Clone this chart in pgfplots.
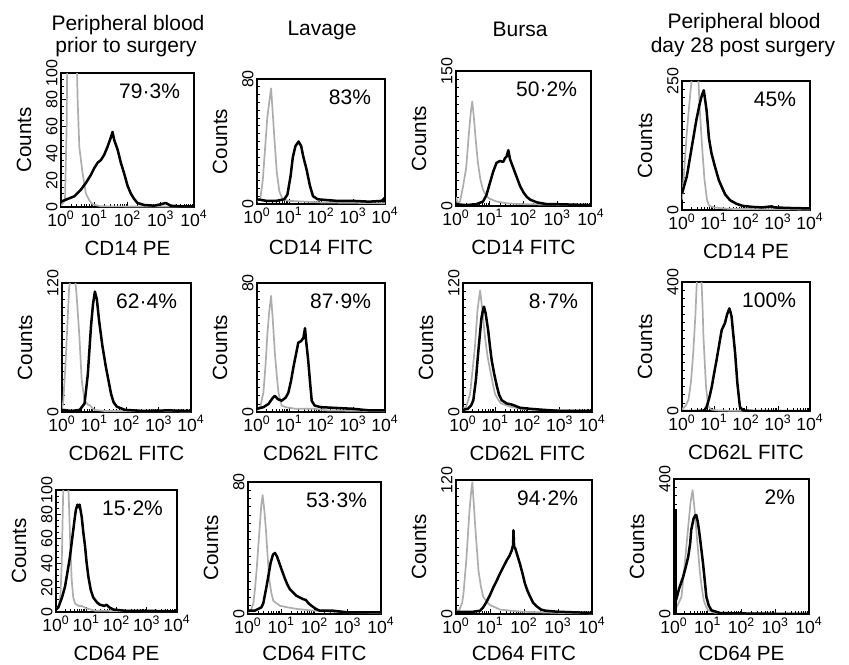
\documentclass[border=0pt]{standalone}
\usepackage{pgfplots}
\pgfplotsset{compat=1.18}
\usepackage{fontspec}
\setmainfont{Liberation Sans}
\newcommand\ticksize{\fontsize{8.8}{8.8}\selectfont}
\newcommand\yticksize{\fontsize{8}{8}\selectfont}
\newcommand\labsize{\fontsize{10.3}{11}\selectfont}
\newcommand\pctsize{\fontsize{10.5}{11}\selectfont}
\newcommand\titsize{\fontsize{10.5}{11.5}\selectfont}

\pgfplotsset{
  hist/.style={
    scale only axis, anchor=north west, clip mode=individual,
    /pgf/number format/assume math mode=true,
    xmin=0, xmax=4, ymin=0,
    axis line style={line width=0.8pt},
    xtick={0,1,2,3,4},
    xticklabels={10\textsuperscript{0},10\textsuperscript{1},10\textsuperscript{2},10\textsuperscript{3},10\textsuperscript{4}},
    minor xtick={0.301,0.477,0.602,0.699,0.778,0.845,0.903,0.954,
      1.301,1.477,1.602,1.699,1.778,1.845,1.903,1.954,
      2.301,2.477,2.602,2.699,2.778,2.845,2.903,2.954,
      3.301,3.477,3.602,3.699,3.778,3.845,3.903,3.954},
    tick align=inside, xtick pos=bottom, ytick pos=left,
    major tick length=2.5pt, minor tick length=1.4pt,
    tick style={black, line width=0.5pt},
    minor tick style={line width=0.4pt},
    xticklabel style={font=\ticksize, inner sep=1.5pt},
    yticklabel style={font=\yticksize, rotate=90, anchor=south, inner sep=1.5pt},
    minor y tick num=15,
  },
  blk/.style={black, line width=1.25pt, line join=round},
  gry/.style={black!32, line width=0.85pt, line join=round},
}
% #1 x label, #2 percentage, #3 drop of the x label below the box
\newcommand\panellabels[3]{%
  \node[font=\labsize] at ([yshift=-#3]rel axis cs:0.5,0) {#1};
  \node[font=\labsize, rotate=90] at ([xshift=-18.5pt]rel axis cs:0,0.5) {Counts};
  \node[font=\pctsize, anchor=east] at ([xshift=-3.5pt,yshift=-9pt]rel axis cs:1,1) {#2};
}

\begin{document}
\begin{tikzpicture}
\path[use as bounding box] (0,0) rectangle (424.5pt,-332pt);

% column titles
\node[font=\titsize, anchor=base] at (64pt,-15pt) {Peripheral blood};
\node[font=\titsize, anchor=base] at (63pt,-26pt) {prior to surgery};
\node[font=\titsize, anchor=base] at (161pt,-17.5pt) {Lavage};
\node[font=\titsize, anchor=base] at (260pt,-18pt) {Bursa};
\node[font=\titsize, anchor=base] at (372pt,-14pt) {Peripheral blood};
\node[font=\titsize, anchor=base] at (371.5pt,-26pt) {day 28 post surgery};

% ---- row 1: CD14 ----
\begin{axis}[hist, at={(30.5pt,-36.5pt)}, width=66.5pt, height=67pt,
  ymax=100, ytick={0,20,...,100}, minor y tick num=3]
\addplot[gry] coordinates {(0,1)(0.12,5)(0.17,60)(0.19,115)(0.47,115)(0.5,80)(0.55,45)(0.65,25)(0.75,10)(0.85,5)(0.95,2)(1.2,0.5)(4,0.3)};
\addplot[blk] coordinates {(0,4)(0.2,6)(0.4,8)(0.6,13)(0.75,18)(0.9,24)(1.0,29)(1.1,33)(1.2,35)(1.3,39)(1.4,45)(1.5,52)(1.55,56)(1.6,50)(1.7,43)(1.8,33)(1.9,25)(2.0,16)(2.1,10)(2.2,6)(2.3,3)(2.5,1.5)(2.8,1)(3.0,2)(3.15,3)(3.3,1)(3.6,0.5)(4,0.5)};
\panellabels{CD14 PE}{79·3\%}{20.5pt}
\end{axis}

\begin{axis}[hist, at={(128.5pt,-39.5pt)}, width=64pt, height=62.5pt,
  ymax=80, ytick={0,80}]
\addplot[gry] coordinates {(0,2)(0.1,3)(0.18,15)(0.25,35)(0.32,55)(0.4,68)(0.44,74)(0.48,62)(0.55,40)(0.62,20)(0.7,8)(0.8,3)(1.0,2)(1.5,1.5)(2,1)(4,0.5)};
\addplot[blk] coordinates {(0,3)(0.3,2)(0.6,2)(0.85,3)(0.95,6)(1.05,18)(1.12,30)(1.2,37)(1.3,40)(1.38,37)(1.45,30)(1.55,22)(1.65,12)(1.75,5)(1.9,3)(2.2,2.5)(2.5,2)(3.0,2)(3.5,1.5)(3.9,2)(4,4)};
\panellabels{CD14 FITC}{83\%}{21.5pt}
\end{axis}

\begin{axis}[hist, at={(228pt,-35.5pt)}, width=67.5pt, height=67.5pt,
  ymax=150, ytick={0,150}]
\addplot[gry] coordinates {(0,10)(0.05,3)(0.12,5)(0.2,20)(0.3,42)(0.38,80)(0.44,105)(0.48,116)(0.52,102)(0.58,75)(0.65,48)(0.72,30)(0.8,18)(0.9,11)(1.0,8)(1.2,5)(1.5,3)(2.0,2)(4,1)};
\addplot[blk] coordinates {(0,2)(0.3,1)(0.6,2)(0.8,5)(0.9,12)(1.0,25)(1.1,38)(1.2,48)(1.3,50)(1.4,49)(1.45,53)(1.5,55)(1.55,62)(1.6,52)(1.7,42)(1.8,32)(1.9,22)(2.0,15)(2.1,10)(2.2,7)(2.4,4)(2.7,2)(3.0,2)(3.5,1.5)(4,1)};
\panellabels{CD14 FITC}{50·2\%}{20.5pt}
\end{axis}

\begin{axis}[hist, at={(341pt,-40.5pt)}, width=64pt, height=64.5pt,
  ymax=250, ytick={0,250}]
\addplot[gry] coordinates {(0,20)(0.05,60)(0.15,150)(0.25,220)(0.33,270)(0.5,270)(0.55,200)(0.62,130)(0.7,60)(0.78,20)(0.85,8)(1.0,5)(1.3,3)(1.6,2)(4,1)};
\addplot[blk] coordinates {(0,32)(0.15,65)(0.3,120)(0.45,175)(0.55,205)(0.62,222)(0.68,232)(0.72,215)(0.77,192)(0.84,140)(0.92,110)(1.03,84)(1.15,58)(1.24,45)(1.35,30)(1.5,19)(1.7,12)(1.9,8)(2.2,6)(2.5,5)(2.8,7)(2.9,5)(3.3,4)(4,3)};
\panellabels{CD14 PE}{45\%}{20.5pt}
\end{axis}

% ---- row 2: CD62L ----
\begin{axis}[hist, at={(31pt,-141.5pt)}, width=64.5pt, height=64.5pt,
  ymax=120, ytick={0,120}]
\addplot[gry] coordinates {(0,3)(0.04,10)(0.1,40)(0.15,70)(0.22,115)(0.27,125)(0.4,125)(0.45,110)(0.54,70)(0.61,30)(0.7,10)(0.8,7)(0.87,6)(1.0,2)(1.3,1)(4,0.5)};
\addplot[blk] coordinates {(0,2)(0.3,1)(0.55,2)(0.7,8)(0.8,35)(0.9,80)(0.96,100)(1.02,112)(1.08,105)(1.15,85)(1.25,62)(1.36,42)(1.45,28)(1.52,17)(1.6,9)(1.7,5)(1.95,2)(2.5,1)(3.3,1.5)(4,1)};
\panellabels{CD62L FITC}{62·4\%}{20.5pt}
\end{axis}

\begin{axis}[hist, at={(128.5pt,-141.5pt)}, width=64pt, height=64.5pt,
  ymax=80, ytick={0,80}]
\addplot[gry] coordinates {(0,1)(0.1,3)(0.2,12)(0.27,30)(0.32,47)(0.38,62)(0.44,72)(0.5,55)(0.56,36)(0.62,22)(0.67,12)(0.77,4)(0.9,3)(1.2,2)(1.8,2)(2.2,1)(4,0.5)};
\addplot[blk] coordinates {(0,2)(0.2,3)(0.36,5)(0.5,9)(0.56,10)(0.65,8)(0.77,7)(0.9,9)(0.98,12)(1.06,19)(1.14,28)(1.22,36)(1.29,43)(1.38,44)(1.45,46)(1.5,52)(1.53,45)(1.6,32)(1.66,18)(1.71,7)(1.8,4)(2.0,3)(2.5,2.5)(3.0,2)(3.5,1)(4,1)};
\panellabels{CD62L FITC}{87·9\%}{20.5pt}
\end{axis}

\begin{axis}[hist, at={(231.5pt,-141.5pt)}, width=64.5pt, height=64.5pt,
  ymax=120, ytick={0,120}]
\addplot[gry] coordinates {(0,3)(0.1,5)(0.22,17)(0.3,40)(0.37,61)(0.45,95)(0.53,113)(0.6,95)(0.68,70)(0.76,52)(0.84,39)(0.92,27)(0.99,17)(1.1,11)(1.18,8)(1.45,5)(1.8,3)(2.2,2)(4,1)};
\addplot[blk] coordinates {(0,2)(0.15,3)(0.25,6)(0.32,11)(0.4,30)(0.47,55)(0.57,87)(0.62,95)(0.65,98)(0.7,92)(0.78,76)(0.84,60)(0.89,48)(0.97,35)(1.05,24)(1.12,16)(1.2,11)(1.35,8)(1.5,7)(1.6,6)(1.76,4)(2.07,3)(2.5,2)(3,1)(4,1)};
\panellabels{CD62L FITC}{8·7\%}{20.5pt}
\end{axis}

\begin{axis}[hist, at={(341pt,-141pt)}, width=64pt, height=64.5pt,
  ymax=400, ytick={0,400}]
\addplot[gry] coordinates {(0,5)(0.1,15)(0.2,34)(0.28,90)(0.35,179)(0.42,300)(0.47,420)(0.6,420)(0.64,330)(0.67,230)(0.75,75)(0.82,15)(0.9,5)(1.1,2)(1.5,1)(4,0)};
\addplot[blk] coordinates {(0,0)(0.5,0)(0.7,2)(0.77,13)(0.85,40)(0.93,75)(1.0,115)(1.08,158)(1.16,205)(1.24,251)(1.34,272)(1.41,300)(1.48,318)(1.52,305)(1.55,292)(1.6,240)(1.66,179)(1.73,86)(1.78,40)(1.81,13)(1.9,2)(2.2,0)(4,0)};
\panellabels{CD62L FITC}{100\%}{20.5pt}
\end{axis}

% ---- row 3: CD64 ----
\begin{axis}[hist, at={(28pt,-245pt)}, width=60.5pt, height=61pt,
  ymax=100, ytick={0,20,...,100}, minor y tick num=3]
\addplot[gry] coordinates {(0,3)(0.1,4)(0.15,15)(0.19,40)(0.23,90)(0.25,110)(0.4,110)(0.44,80)(0.48,50)(0.52,26)(0.57,12)(0.63,7)(0.75,5)(0.85,5)(1.0,3)(1.3,1)(4,0.5)};
\addplot[blk] coordinates {(0,2)(0.08,4)(0.2,12)(0.3,21)(0.38,33)(0.46,45)(0.52,57)(0.57,67)(0.62,77)(0.66,84)(0.71,88)(0.74,86)(0.78,88)(0.85,78)(0.9,66)(0.96,54)(1.01,41)(1.07,29)(1.15,18)(1.23,12)(1.35,8)(1.45,6)(1.6,5)(1.67,6)(1.75,4)(1.9,2)(2.3,1)(3,1)(4,0.5)};
\panellabels{CD64 PE}{15·2\%}{20.5pt}
\end{axis}

\begin{axis}[hist, at={(124pt,-241pt)}, width=66.5pt, height=66pt,
  ymax=80, ytick={0,80}]
\addplot[gry] coordinates {(0,1)(0.1,3)(0.16,6.5)(0.21,15)(0.26,27)(0.31,41)(0.36,55)(0.4,66)(0.44,72)(0.49,63)(0.54,51)(0.59,35)(0.64,21)(0.7,13)(0.76,8)(0.96,5)(1.2,4)(1.5,3)(2,2)(3,1)(4,0.5)};
\addplot[blk] coordinates {(0,2)(0.2,2)(0.4,4)(0.46,6.5)(0.56,17)(0.62,24)(0.68,31)(0.75,36)(0.81,37)(0.87,35)(0.94,31)(1.01,27)(1.1,22)(1.18,18)(1.26,15)(1.36,13)(1.46,11)(1.56,10)(1.66,9)(1.74,8.5)(1.82,6.5)(1.91,5)(2.05,3)(2.16,2)(2.56,2)(3,1)(3.5,1)(4,1)};
\panellabels{CD64 FITC}{53·3\%}{19.5pt}
\end{axis}

\begin{axis}[hist, at={(228pt,-240pt)}, width=68pt, height=67pt,
  ymax=120, ytick={0,120}]
\addplot[gry] coordinates {(0,2)(0.1,4)(0.18,10)(0.22,18.5)(0.31,51)(0.39,90)(0.44,108)(0.48,118)(0.52,100)(0.56,81)(0.61,60)(0.66,39)(0.73,25)(0.8,15.5)(0.9,11)(1.0,8)(1.15,6)(1.29,4)(1.6,3)(2,2)(3,1)(4,0.5)};
\addplot[blk] coordinates {(0,2)(0.3,2)(0.5,2)(0.71,3)(0.8,6)(0.9,11)(1.0,17)(1.1,24)(1.2,30)(1.29,36)(1.39,42)(1.49,48)(1.57,52)(1.64,57)(1.68,62)(1.69,75)(1.71,60)(1.74,59)(1.8,53)(1.88,45)(1.95,37)(2.03,27)(2.1,21)(2.18,15.5)(2.27,10)(2.37,7)(2.5,4)(2.62,3)(3,2)(4,1)};
\panellabels{CD64 FITC}{94·2\%}{19.5pt}
\end{axis}

\begin{axis}[hist, at={(337pt,-239.5pt)}, width=67.5pt, height=67.5pt,
  ymax=400, ytick={0,400}]
\addplot[gry] coordinates {(0,10)(0.1,25)(0.22,50)(0.32,150)(0.42,258)(0.49,330)(0.55,367)(0.6,320)(0.66,249)(0.71,190)(0.76,130)(0.82,80)(0.88,41)(0.95,22)(1.01,11)(1.2,4)(1.5,2)(4,0)};
\addplot[blk] coordinates {(0,20)(0.06,41)(0.15,75)(0.27,110)(0.35,140)(0.42,169)(0.48,210)(0.51,249)(0.58,283)(0.63,292)(0.66,293)(0.7,275)(0.74,249)(0.8,200)(0.86,150)(0.91,100)(0.96,50)(1.03,25)(1.11,11)(1.36,3)(1.8,2)(2.5,1)(4,0)};
\addplot[blk, line width=1.5pt] coordinates {(0.04,0)(0.04,310)};
\panellabels{CD64 PE}{2\%}{19.5pt}
\end{axis}
\end{tikzpicture}
\end{document}
